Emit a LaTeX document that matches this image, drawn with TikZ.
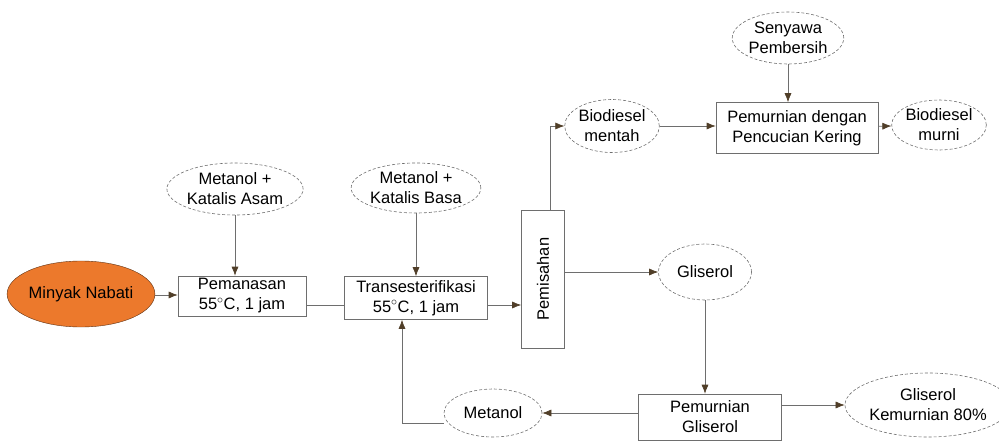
\documentclass[tikz,border=0pt]{standalone}
\usepackage{fontspec}
\setmainfont{Liberation Sans}
\usetikzlibrary{shapes.geometric,arrows.meta}
\definecolor{minyakOrange}{RGB}{236,121,44}
\definecolor{lineGray}{RGB}{110,110,110}
\definecolor{tipBrown}{RGB}{80,62,40}
\tikzset{
  procBox/.style={draw=lineGray,line width=0.6pt,rectangle,inner sep=0pt,align=center},
  feedEllipse/.style={draw=lineGray,line width=0.6pt,densely dashed,ellipse,inner sep=0pt,align=center},
  flowArrow/.style={draw=lineGray,line width=0.6pt,-{Latex[length=9pt,width=7pt,fill=tipBrown,color=tipBrown]}},
  flowLine/.style={draw=lineGray,line width=0.6pt}
}
\begin{document}
\begin{tikzpicture}[x=1pt,y=-1pt,font=\fontsize{16.5}{20}\selectfont]
    \useasboundingbox (0,0) rectangle (999,441);

    % feed and first steps
    \node[ellipse,draw=black!60!minyakOrange,fill=minyakOrange,inner sep=0pt,minimum width=138pt,minimum height=66pt] (minyakNode) at (81,294) {Minyak Nabati};
    \node[procBox,minimum width=128pt,minimum height=40pt] (pemanasanNode) at (242,296) {Pemanasan\\55$^{\circ}$C, 1 jam};
    \node[feedEllipse,minimum width=120pt,minimum height=52pt] (asamNode) at (235,189) {Metanol +\\Katalis Asam};
    \node[procBox,minimum width=143pt,minimum height=43pt] (transNode) at (416,298) {Transesterifikasi\\55$^{\circ}$C, 1 jam};
    \node[feedEllipse,minimum width=118pt,minimum height=50pt] (basaNode) at (416,188) {Metanol +\\Katalis Basa};
    \node[procBox,minimum width=43pt,minimum height=138pt] (pemisahanNode) at (543,279) {\rotatebox{90}{Pemisahan}};

    % biodiesel branch
    \node[feedEllipse,minimum width=80pt,minimum height=53pt] (mentahNode) at (612,126) {Biodiesel\\mentah};
    \node[procBox,minimum width=162pt,minimum height=51pt] (pencucianNode) at (797,128) {Pemurnian dengan\\Pencucian Kering};
    \node[feedEllipse,minimum width=101pt,minimum height=52pt] (pembersihNode) at (788,38) {Senyawa\\Pembersih};
    \node[feedEllipse,minimum width=92pt,minimum height=50pt] (murniNode) at (939,125) {Biodiesel\\murni};

    % gliserol branch
    \node[feedEllipse,minimum width=93pt,minimum height=56pt] (gliserolNode) at (705,272) {Gliserol};
    \node[procBox,minimum width=143pt,minimum height=46pt] (pGliserolNode) at (710,417) {Pemurnian\\Gliserol};
    \node[feedEllipse,minimum width=130pt,minimum height=64pt] (kemurnianNode) at (928,405) {Gliserol\\Kemurnian 80\%};
    \node[feedEllipse,minimum width=98pt,minimum height=48pt] (metanolNode) at (493,413) {Metanol};

    \coordinate (recycleCorner) at (402,423);
    \coordinate (pemisahanTop) at (550,126);

    \draw[flowArrow] (minyakNode.east |- 0,295) -- (pemanasanNode.west |- 0,295);
    \draw[flowArrow] (asamNode) -- (asamNode |- pemanasanNode.north);
    \draw[flowLine] (pemanasanNode.east |- 0,305) -- (transNode.west |- 0,305);
    \draw[flowArrow] (basaNode) -- (transNode);
    \draw[flowArrow] (transNode.east |- 0,305) -- (pemisahanNode.west |- 0,305);
    \draw[flowArrow] (pemisahanNode.north -| pemisahanTop) |- (mentahNode.west);
    \draw[flowArrow] (mentahNode) -- (pencucianNode.west |- mentahNode);
    \draw[flowArrow] (pembersihNode) -- (pencucianNode.north -| pembersihNode);
    \draw[flowArrow] (pencucianNode) -- (murniNode);
    \draw[flowArrow] (pemisahanNode.east |- gliserolNode) -- (gliserolNode);
    \draw[flowArrow] (gliserolNode) -- (gliserolNode |- pGliserolNode.north);
    \draw[flowArrow] (pGliserolNode.east |- kemurnianNode) -- (kemurnianNode);
    \draw[flowArrow] (pGliserolNode.west |- metanolNode) -- (metanolNode);
    \draw[flowArrow] (metanolNode.west |- recycleCorner) -- (recycleCorner) -- (recycleCorner |- transNode.south);

\end{tikzpicture}
\end{document}
